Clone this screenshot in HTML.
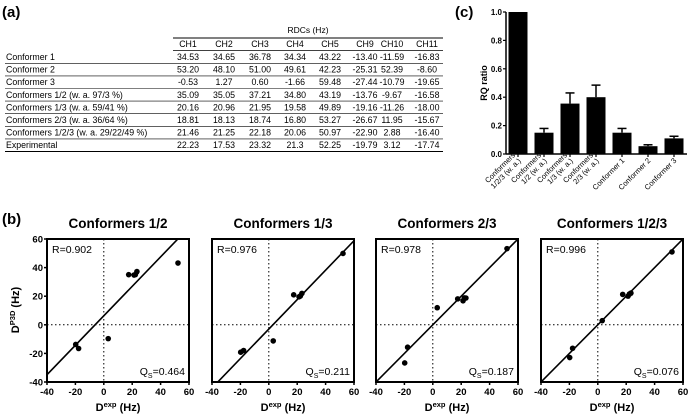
<!DOCTYPE html>
<html><head><meta charset="utf-8"><style>
body{margin:0;background:#fff}
svg{display:block;font-family:"Liberation Sans",Arial,sans-serif}
</style></head><body>
<svg id="fig" width="689" height="417" viewBox="0 0 689 417" xmlns="http://www.w3.org/2000/svg">
<g id="tbl"></g>
<g id="bar"></g>
<g id="sc"></g>
</svg>
<script>
const NS="http://www.w3.org/2000/svg";
function mk(p,t,a,txt){const e=document.createElementNS(NS,t);for(const k in a)e.setAttribute(k,a[k]);if(txt!==undefined)e.textContent=txt;p.appendChild(e);return e;}
const fig=document.getElementById('fig');

// ---------- Table data ----------
const colHeaders=["CH1","CH2","CH3","CH4","CH5","CH9","CH10","CH11"];
const rowLabels=["Conformer 1","Conformer 2","Conformer 3","Conformers 1/2 (w. a. 97/3 %)","Conformers 1/3 (w. a. 59/41 %)","Conformers 2/3 (w. a. 36/64 %)","Conformers 1/2/3 (w. a. 29/22/49 %)","Experimental"];
const conf1=["34.53","34.65","36.78","34.34","43.22","-13.40","-11.59","-16.83"];
const conf2=["53.20","48.10","51.00","49.61","42.23","-25.31","52.39","-8.60"];
const conf3=["-0.53","1.27","0.60","-1.66","59.48","-27.44","-10.79","-19.65"];
const conf12=["35.09","35.05","37.21","34.80","43.19","-13.76","-9.67","-16.58"];
const conf13=["20.16","20.96","21.95","19.58","49.89","-19.16","-11.26","-18.00"];
const conf23=["18.81","18.13","18.74","16.80","53.27","-26.67","11.95","-15.67"];
const conf123=["21.46","21.25","22.18","20.06","50.97","-22.90","2.88","-16.40"];
const experimental=["22.23","17.53","23.32","21.3","52.25","-19.79","3.12","-17.74"];
const tableRows=[conf1,conf2,conf3,conf12,conf13,conf23,conf123,experimental];

const tbl=document.getElementById('tbl');
let t=mk(fig,'text',{x:2,y:17,'font-size':15,'font-weight':'bold'},'(a)');

t=mk(tbl,'text',{x:308,y:33,'font-size':8.5,'text-anchor':'middle'},'RDCs (Hz)');

mk(tbl,'line',{x1:173,x2:443,y1:38,y2:38,stroke:'#000','stroke-width':1});
mk(tbl,'line',{x1:173,x2:443,y1:50.5,y2:50.5,stroke:'#000','stroke-width':0.8});
const colX=[188,224,260,295,330,365,392,427];
colHeaders.forEach((h,i)=>{const e=mk(tbl,'text',{x:colX[i],y:47,'font-size':8.8,'text-anchor':'middle'},h);
});
tableRows.forEach((r,j)=>{
  const y=60+j*12.6;
  const l=mk(tbl,'text',{x:6,y:y,'font-size':8.8},rowLabels[j]);
  
  r.forEach((v,i)=>{const e=mk(tbl,'text',{x:colX[i],y:y,'font-size':8.8,'text-anchor':'middle'},v);
  });
  mk(tbl,'line',{x1:5,x2:443,y1:y+3.3,y2:y+3.3,stroke:'#000','stroke-width':j==7?1:0.6});
});

// ---------- Bar chart data ----------
const barCats=[["Conformers","1/2/3 (w. a.)"],["Conformers","1/2 (w. a.)"],["Conformers","1/3 (w. a.)"],["Conformers","2/3 (w. a.)"],["Conformer 1"],["Conformer 2"],["Conformer 3"]];
const barVals=[1.0,0.15,0.355,0.40,0.15,0.055,0.11];
const barErr=[0,0.03,0.075,0.085,0.03,0.01,0.015];
const barTicks=[0,0.2,0.4,0.6,0.8,1.0];
const bar=document.getElementById('bar');
const bx0=506,bx1=687,by0=154,by1=12;
const by=v=>by0-(v/1.0)*(by0-by1);
const bxc=i=>518+i*26;
t=mk(fig,'text',{x:455,y:17,'font-size':15,'font-weight':'bold'},'(c)');

t=mk(bar,'text',{x:0,y:0,'font-size':9,'font-weight':'bold','text-anchor':'middle',transform:'translate(487,83) rotate(-90)'},'RQ ratio');

barVals.forEach((v,i)=>{
  const x=bxc(i);
  const r=mk(bar,'rect',{x:x-9.5,y:by(v),width:19,height:by0-by(v),fill:'#000'});
  
  if(barErr[i]>0){mk(bar,'line',{x1:x,x2:x,y1:by(v),y2:by(v+barErr[i]),stroke:'#000','stroke-width':1.5});
  mk(bar,'line',{x1:x-4.5,x2:x+4.5,y1:by(v+barErr[i]),y2:by(v+barErr[i]),stroke:'#000','stroke-width':1.5});}
  mk(bar,'line',{x1:x,x2:x,y1:by0,y2:by0+3,stroke:'#000','stroke-width':1.2});
  const g=mk(bar,'text',{'font-size':7.5,'text-anchor':'end',transform:`translate(${x+3},${by0+7}) rotate(-45)`});
  
  barCats[i].forEach((s,k)=>{mk(g,'tspan',{x:0,dy:k==0?(barCats[i].length>1?-7.5:0):8},s);});
});
mk(bar,'line',{x1:bx0,x2:bx0,y1:by1,y2:by0,stroke:'#000','stroke-width':1.5});
mk(bar,'line',{x1:bx0,x2:bx1,y1:by0,y2:by0,stroke:'#000','stroke-width':1.5});
barTicks.forEach(v=>{mk(bar,'line',{x1:bx0-3,x2:bx0,y1:by(v),y2:by(v),stroke:'#000','stroke-width':1.2});
 const e=mk(bar,'text',{x:bx0-4,y:by(v)+3,'font-size':8,'font-weight':'bold','text-anchor':'end'},v.toFixed(1));
 });

// ---------- Scatter data ----------
const expX=[22.23,17.53,23.32,21.3,52.25,-19.79,3.12,-17.74];
const y12=[35.09,35.05,37.21,34.80,43.19,-13.76,-9.67,-16.58];
const y13=[20.16,20.96,21.95,19.58,49.89,-19.16,-11.26,-18.00];
const y23=[18.81,18.13,18.74,16.80,53.27,-26.67,11.95,-15.67];
const y123=[21.46,21.25,22.18,20.06,50.97,-22.90,2.88,-16.40];
const panelTitles=["Conformers 1/2","Conformers 1/3","Conformers 2/3","Conformers 1/2/3"];
const panelR=["0.902","0.976","0.978","0.996"];
const panelQ=["0.464","0.211","0.187","0.076"];
const fitSlope=[1.03,1.03,1.0,1.0];
const fitIntercept=[6.3,-3,0,0];
const axTicks=[-40,-20,0,20,40,60];
const panelY=[y12,y13,y23,y123];
const sc=document.getElementById('sc');
t=mk(fig,'text',{x:2,y:224,'font-size':15,'font-weight':'bold'},'(b)');

const px0=[47,212,376,541],pw=142,pt=239,pb=382;
t=mk(sc,'text',{'font-size':11,'font-weight':'bold','text-anchor':'middle',transform:'translate(19,310) rotate(-90)'});
mk(t,'tspan',{},'D');mk(t,'tspan',{'font-size':7.5,dy:-4},'P3D');mk(t,'tspan',{dy:4},' (Hz)');

panelY.forEach((ys,p)=>{
  const g=mk(sc,'g',{});
  
  const L=px0[p];
  const sx=v=>L+(v+40)/100*pw, sy=v=>pb-(v+40)/100*(pb-pt);
  const ti=mk(g,'text',{x:L+pw/2,y:228,'font-size':13.5,'font-weight':'bold','text-anchor':'middle'},panelTitles[p]);
  
  const cp='c'+p;
  const cl=mk(g,'clipPath',{id:cp});mk(cl,'rect',{x:L,y:pt,width:pw,height:pb-pt});
  mk(g,'line',{x1:sx(0),x2:sx(0),y1:pt,y2:pb,stroke:'#000','stroke-width':1,'stroke-dasharray':'1.5,2.5'});
  mk(g,'line',{x1:L,x2:L+pw,y1:sy(0),y2:sy(0),stroke:'#000','stroke-width':1,'stroke-dasharray':'1.5,2.5'});
  const fl=mk(g,'line',{x1:sx(-50),y1:sy(fitSlope[p]*-50+fitIntercept[p]),x2:sx(70),y2:sy(fitSlope[p]*70+fitIntercept[p]),stroke:'#000','stroke-width':1.6,'clip-path':`url(#${cp})`});
  
  ys.forEach((y,i)=>{const c=mk(g,'circle',{cx:sx(expX[i]),cy:sy(y),r:2.8,fill:'#000'});
   });
  mk(g,'rect',{x:L,y:pt,width:pw,height:pb-pt,fill:'none',stroke:'#000','stroke-width':2});
  const r=mk(g,'text',{x:L+5,y:pt+14,'font-size':10.5},'R='+panelR[p]);
  
  const q=mk(g,'text',{x:L+pw-4,y:pb-7,'font-size':10.5,'text-anchor':'end'});
  mk(q,'tspan',{},'Q');mk(q,'tspan',{'font-size':7,dy:3},'S');mk(q,'tspan',{dy:-3},'='+panelQ[p]);
  
  axTicks.forEach(v=>{
    mk(g,'line',{x1:sx(v),x2:sx(v),y1:pb,y2:pb+3,stroke:'#000','stroke-width':1.5});
    const e=mk(g,'text',{x:sx(v),y:pb+13,'font-size':9.5,'font-weight':'bold','text-anchor':'middle'},v);
    
    if(p==0){mk(g,'line',{x1:L-3,x2:L,y1:sy(v),y2:sy(v),stroke:'#000','stroke-width':1.5});
    const f=mk(g,'text',{x:L-4,y:sy(v)+3.5,'font-size':9.5,'font-weight':'bold','text-anchor':'end'},v);
    }
  });
  const xt=mk(g,'text',{x:L+pw/2,y:411,'font-size':11,'font-weight':'bold','text-anchor':'middle'});
  mk(xt,'tspan',{},'D');mk(xt,'tspan',{'font-size':7.5,dy:-4},'exp');mk(xt,'tspan',{dy:4},' (Hz)');
  
});
</script>
</body></html>
